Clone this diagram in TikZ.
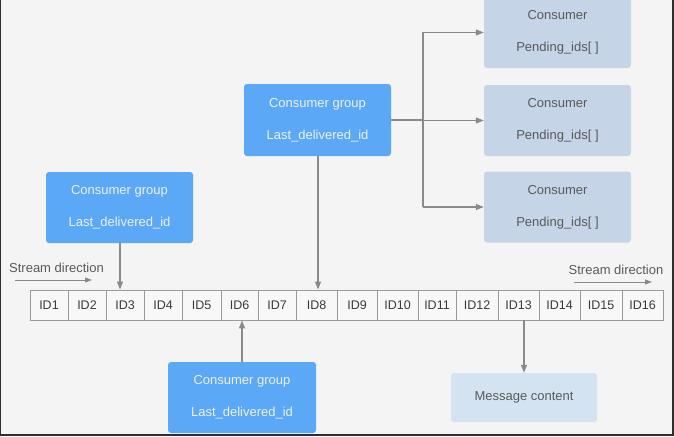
\documentclass[tikz,border=0pt]{standalone}
\usepackage{fontspec}
\setmainfont{Liberation Sans}
\usetikzlibrary{arrows.meta}
\definecolor{bg}{HTML}{F4F4F4}
\definecolor{frame}{HTML}{2E2E2E}
\definecolor{grpblue}{HTML}{5BA8F7}
\definecolor{consfill}{HTML}{C5D4E7}
\definecolor{msgfill}{HTML}{D4E3F2}
\definecolor{linegray}{HTML}{8A8A8A}
\definecolor{cellline}{HTML}{9A9A9A}
\definecolor{txtgray}{HTML}{5A5A5A}
\definecolor{txtdark}{HTML}{3A3A3A}
\tikzset{
  txt/.style={font=\fontsize{13pt}{15pt}\selectfont},
  grpbox/.style={txt, fill=grpblue, draw=none, rounded corners=3pt, text=white!94!black,
    minimum width=147pt, minimum height=71pt, align=center, inner sep=0pt},
  consbox/.style={txt, fill=consfill, draw=none, rounded corners=3pt, text=txtgray,
    minimum width=147pt, minimum height=71pt, align=center, inner sep=0pt},
  msgbox/.style={txt, fill=msgfill, draw=none, rounded corners=3pt, text=txtgray,
    minimum width=146pt, minimum height=49pt, align=center, inner sep=0pt},
  idcell/.style={font=\fontsize{12.5pt}{15pt}\selectfont, text=txtdark, draw=cellline, line width=0.9pt,
    fill=white!40!bg, minimum height=30pt, inner sep=0pt},
  conn/.style={draw=linegray, line width=1.2pt, -{Triangle[length=8pt,width=6pt]}},
  plainconn/.style={draw=linegray, line width=1.2pt},
  streamarrow/.style={draw=linegray, line width=1pt, -{Triangle[length=7pt,width=5pt]}},
  streamtxt/.style={txt, text=txtgray, inner sep=0pt},
}
\begin{document}
\begin{tikzpicture}[x=1pt,y=-1pt]
\fill[bg] (0,0) rectangle (674,436);
\useasboundingbox (0,0) rectangle (674,436);

% ID cells
\foreach \i/\a/\b in {1/30/68,2/68/106,3/106/144,4/144/182,5/182/221,6/221/258,7/258/296,8/296/337,
  9/337/377,10/377/418,11/418/456,12/456/498,13/498/539,14/539/580,15/580/622,16/622/663}{
  \node[idcell, minimum width={\b pt-\a pt}] (id\i) at ({(\a+\b)/2},305) {ID\i};
}

% consumer groups
\node[grpbox] (gA) at (119.5,207.5) {Consumer group\\[17pt]Last\_delivered\_id};
\node[grpbox, minimum height=72pt] (gB) at (317.5,120) {Consumer group\\[17pt]Last\_delivered\_id};
\node[grpbox, minimum width=148pt] (gC) at (242,397.5) {Consumer group\\[17pt]Last\_delivered\_id};

% consumers
\node[consbox] (c1) at (557.5,32.5) {Consumer\\[17pt]Pending\_ids[ ]};
\node[consbox] (c2) at (557.5,120.5) {Consumer\\[17pt]Pending\_ids[ ]};
\node[consbox] (c3) at (557.5,207) {Consumer\\[17pt]Pending\_ids[ ]};

% message content
\node[msgbox] (msg) at (524,397.5) {Message content};

% stream direction labels
\node[streamtxt] (sl) at (56.5,268) {Stream direction};
\node[streamtxt] (sr) at (616,270) {Stream direction};
\coordinate (sla) at (15,280);
\coordinate (slb) at (92,280);
\coordinate (sra) at (574,282);
\coordinate (srb) at (652,282);
\draw[streamarrow] (sla) -- (slb);
\draw[streamarrow] (sra) -- (srb);

% connectors
\draw[conn] ([xshift=0.5pt]gA.south) -- ([xshift=0.5pt]gA.south |- id3.north);
\draw[conn] ([xshift=0.5pt]gB.south) -- ([xshift=0.5pt]gB.south |- id8.north);
\draw[conn] (gC.north) -- (gC.north |- id6.south);
\draw[conn] (msg.north |- id13.south) -- (msg.north);

\coordinate (j) at (423,120);
\draw[plainconn] (gB.east |- j) -- (j);
\draw[plainconn] (j |- c1.west) -- (j |- c3.west);
\draw[conn] (j |- c1.west) -- (c1.west);
\draw[conn] (j |- c2.west) -- (c2.west);
\draw[conn] (j |- c3.west) -- (c3.west);

% dark frame
\fill[frame] (0,0) rectangle (1.2,436);
\fill[frame] (671.5,0) rectangle (674,436);
\fill[frame] (0,433.5) rectangle (674,436);
\end{tikzpicture}
\end{document}
